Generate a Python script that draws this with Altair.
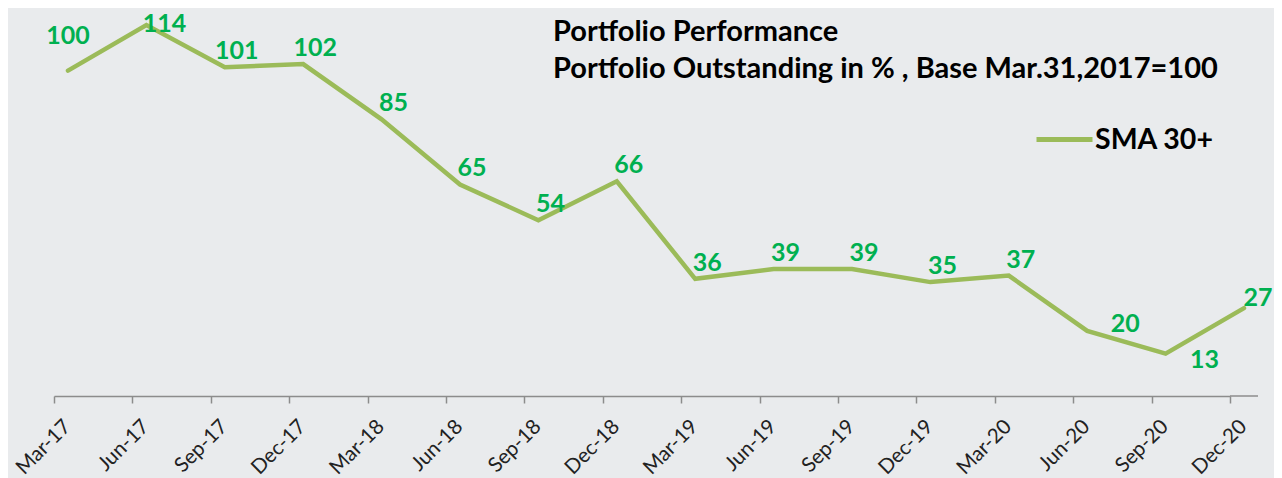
import altair as alt
import pandas as pd

categories = ["Mar-17", "Jun-17", "Sep-17", "Dec-17", "Mar-18", "Jun-18", "Sep-18", "Dec-18",
              "Mar-19", "Jun-19", "Sep-19", "Dec-19", "Mar-20", "Jun-20", "Sep-20", "Dec-20"]
values = [100, 114, 101, 102, 85, 65, 54, 66, 36, 39, 39, 35, 37, 20, 13, 27]
series_name = "SMA 30+"
title_line1 = "Portfolio Performance"
title_line2 = "Portfolio Outstanding in % , Base Mar.31,2017=100"

df = pd.DataFrame({"period": categories, "value": values, "series": series_name})

LINE_COLOR = "#9BBB59"
LABEL_COLOR = "#00B050"
AXIS_COLOR = "#8c8c8c"
FONT = "Lato"

x_enc = alt.X("period:N", sort=categories,
              scale=alt.Scale(type="point", padding=0),
              axis=alt.Axis(title=None, labelAngle=-45, labelFontSize=20.5, labelFont=FONT,
                            labelColor="#222222", domainColor=AXIS_COLOR, domainWidth=1.5,
                            tickColor=AXIS_COLOR, tickWidth=1.5, tickSize=7, labelPadding=13,
                            labelOffset=6, labelBaseline="top", labelAlign="right", grid=False))
y_enc = alt.Y("value:Q", scale=alt.Scale(domain=[0, 118], nice=False), axis=None)

base = alt.Chart(df).encode(x=x_enc, y=y_enc)

line = base.mark_line(strokeWidth=4.5, xOffset=14, strokeCap="round", strokeJoin="miter").encode(
    color=alt.Color("series:N", scale=alt.Scale(range=[LINE_COLOR]),
                    legend=alt.Legend(title=None, orient="none", legendX=980, legendY=97,
                                      symbolType="stroke", symbolSize=3136, symbolStrokeWidth=5,
                                      labelFontSize=28.5, labelFont=FONT, labelFontWeight="bold",
                                      labelColor="#000000", labelOffset=0, padding=0))
)

text_style = dict(fontSize=25, font=FONT, fontWeight="bold", color=LABEL_COLOR,
                  align="center", baseline="middle", xOffset=14)

special_offsets = {"Mar-17": (0, -35), "Jun-17": (18, -1), "Jun-20": (38, -7),
                   "Sep-20": (39, 6), "Dec-20": (14, -10)}

labels_main = base.mark_text(dx=12, dy=-16, **text_style).encode(text="value:Q").transform_filter(
    alt.FieldOneOfPredicate(field="period", oneOf=[c for c in categories if c not in special_offsets]))
special_layers = [
    base.mark_text(dx=d[0], dy=d[1], **text_style).encode(text="value:Q").transform_filter(
        alt.FieldEqualPredicate(field="period", equal=c))
    for c, d in special_offsets.items()
]

# axis line continues a little past the last tick, as in the reference
axis_ext = alt.Chart(pd.DataFrame({"a": [0]})).mark_rule(color=AXIS_COLOR, strokeWidth=1.5).encode(
    x=alt.value(1176), x2=alt.value(1204), y=alt.value(384))

title_style = dict(align="left", baseline="alphabetic", fontSize=29, font=FONT,
                   fontWeight="bold", color="#000000")
title1 = alt.Chart(pd.DataFrame({"t": [title_line1]})).mark_text(**title_style).encode(
    x=alt.value(499), y=alt.value(29), text="t:N")
title2 = alt.Chart(pd.DataFrame({"t": [title_line2]})).mark_text(**title_style).encode(
    x=alt.value(499), y=alt.value(66), text="t:N")

chart = alt.layer(axis_ext, line, labels_main, *special_layers, title1, title2).properties(
    width=1176, height=384,
    autosize=alt.AutoSizeParams(type="none"),
    padding={"left": 46, "top": 4, "right": 44, "bottom": 82},
    background="#E9EBED",
).configure_view(stroke=None)

chart.save("out.html", embed_options={"renderer": "svg", "actions": False})
